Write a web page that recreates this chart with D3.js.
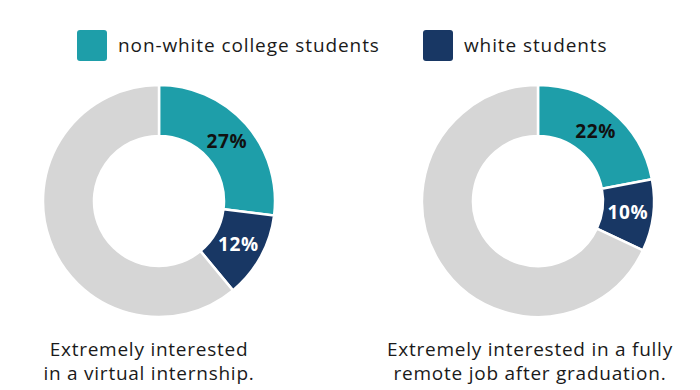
<!DOCTYPE html>
<html lang="en">
<head>
<meta charset="utf-8"/>
<title>Interest in remote work</title>
<script src="https://cdn.jsdelivr.net/npm/d3@7"></script>
<style>
  body { margin: 0; background: #fff; }
  text { font-family: "Open Sans", "Lato", sans-serif; }
</style>
</head>
<body>
<svg id="chart" width="700" height="390"></svg>
<script>
// data
const groups = ["non-white college students", "white students"]
const virtualInternship = [27, 12]
const remoteJob = [22, 10]
const captions = [
  ["Extremely interested", "in a virtual internship."],
  ["Extremely interested in a fully", "remote job after graduation."]
]

const colors = ["#1e9ea9", "#183764"]
const restColor = "#d6d6d6"

const svg = d3.select("#chart")

// legend
const legend = svg.append("g")
const legendX = [77, 423]
groups.forEach((g, i) => {
  legend.append("rect")
    .attr("x", legendX[i]).attr("y", 30)
    .attr("width", 30).attr("height", 31)
    .attr("rx", 3)
    .attr("fill", colors[i])
  legend.append("text")
    .attr("x", legendX[i] + 41).attr("y", 52)
    .attr("font-size", 19)
    .attr("letter-spacing", 0.9)
    .attr("fill", "#1a1a1a")
    .text(g)
})

const outer = 116, inner = 65
const pie = d3.pie().sort(null).value(d => d.v)
const arc = d3.arc().innerRadius(inner).outerRadius(outer)

// captions sit a bit left of the donut centres in the original
function donut(cx, capX, vals, caption) {
  const total = d3.sum(vals)
  const slices = vals.map((v, i) => ({ v: v, c: colors[i], label: v + "%", tc: i == 0 ? "#111" : "#fff" }))
  slices.push({ v: 100 - total, c: restColor, label: null })

  const g = svg.append("g").attr("transform", `translate(${cx},201)`)

  g.selectAll("path")
    .data(pie(slices))
    .enter()
    .append("path")
    .attr("d", arc)
    .attr("fill", d => d.data.c)
    .attr("stroke", "#fff")
    .attr("stroke-width", 2.5)

  g.selectAll("text.pct")
    .data(pie(slices).filter(d => d.data.label))
    .enter()
    .append("text")
    .attr("class", "pct")
    .attr("transform", d => `translate(${arc.centroid(d)})`)
    .attr("text-anchor", "middle")
    .attr("dy", "0.36em")
    .attr("font-size", 19)
    .attr("letter-spacing", 0.6)
    .attr("font-weight", "bold")
    .attr("fill", d => d.data.tc)
    .text(d => d.data.label)

  caption.forEach((line, i) => {
    svg.append("text")
      .attr("x", capX).attr("y", 356 + i * 23.5)
      .attr("text-anchor", "middle")
      .attr("font-size", 19)
      .attr("letter-spacing", 0.75)
      .attr("fill", "#1a1a1a")
      .text(line)
  })
}

donut(159, 149, virtualInternship, captions[0])
donut(538, 530, remoteJob, captions[1])
</script>
</body>
</html>
